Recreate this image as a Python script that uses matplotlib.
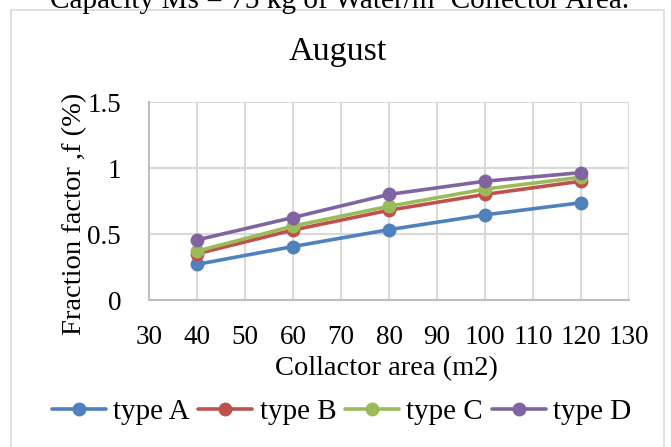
import matplotlib
matplotlib.use("Agg")
import matplotlib.pyplot as plt
from matplotlib.patches import Rectangle

plt.rcParams['font.family'] = ['Liberation Serif', 'DejaVu Serif']

area = [40, 60, 80, 100, 120]
type_a = [0.27, 0.405, 0.533, 0.645, 0.737]
type_b = [0.35, 0.53, 0.68, 0.80, 0.90]
type_c = [0.37, 0.56, 0.71, 0.84, 0.93]
type_d = [0.455, 0.625, 0.80, 0.90, 0.965]
series_names = ['type A', 'type B', 'type C', 'type D']
colors = ['#4F81BD', '#C0504D', '#9BBB59', '#8064A2']
x_ticks = [30, 40, 50, 60, 70, 80, 90, 100, 110, 120, 130]
y_ticks = [0, 0.5, 1, 1.5]

W, H = 671, 447
fig = plt.figure(figsize=(W/100, H/100), dpi=100)

# outer chart border
fig.patches.append(Rectangle((11/W, -0.01), (664-11)/W, (H-10)/H + 0.01, transform=fig.transFigure,
                             fill=False, edgecolor='#d9d9d9', linewidth=1.2))

left, right, top, bottom = 149, 629, 102, 300
ax = fig.add_axes([left/W, 1-bottom/H, (right-left)/W, (bottom-top)/H])

for vals, name, c in zip([type_a, type_b, type_c, type_d], series_names, colors):
    ax.plot(area, vals, color=c, lw=2.6, marker='o', markersize=9, label=name,
            solid_capstyle='round')

ax.set_xlim(30, 130)
ax.set_ylim(0, 1.5)
ax.set_xticks(x_ticks)
ax.set_yticks(y_ticks)
ax.set_yticklabels(['0', '0.5', '1', '1.5'])
ax.grid(True, color='#d9d9d9', lw=1.5)
ax.set_axisbelow(True)
for s in ['top', 'right']:
    ax.spines[s].set_visible(False)
for s in ['left', 'bottom']:
    ax.spines[s].set_color('#bfbfbf')
    ax.spines[s].set_linewidth(1.5)
ax.tick_params(axis='x', length=0, labelsize=19.5, pad=18)
ax.tick_params(axis='y', length=0, labelsize=19.5, pad=20)

ax.set_xlabel('Collactor area (m2)', fontsize=20.5)
ax.set_ylabel('Fraction factor ,f (%)', fontsize=20.5)
ax.xaxis.set_label_coords(0.5 - 3/480, (300 - 356) / 198)
ax.yaxis.set_label_coords((87 - 149) / 480, 0.5 - 13/198)

fig.text(338/W, 1 - 60/H, 'August', fontsize=24.5, ha='center', va='baseline')

fig.text(340/W, 1 - 8/H, 'Capacity Ms = 75 kg of Water/m² Collector Area.', fontsize=21.1,
         ha='center', va='baseline')

fig.legend(loc='center', bbox_to_anchor=(341.5/W, 1 - 412/H), ncol=4, frameon=False,
           fontsize=21, handlelength=1.86, handletextpad=0.25, columnspacing=0.29,
           borderaxespad=0, borderpad=0)

fig.savefig('out.png', dpi=100)
